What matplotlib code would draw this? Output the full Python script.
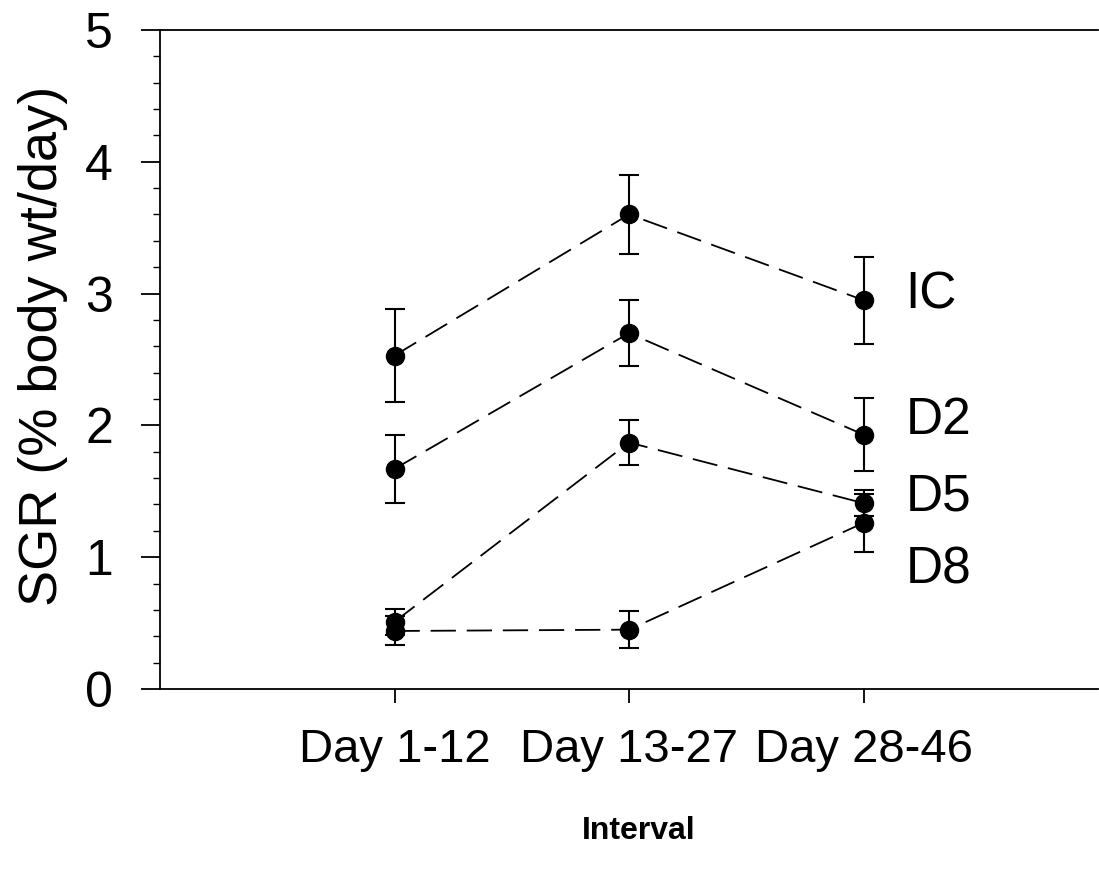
import numpy as np
import matplotlib
matplotlib.use("Agg")
import matplotlib.pyplot as plt
from matplotlib.ticker import MultipleLocator

# growth data: mean SGR and error per interval
intervals = ["Day 1-12", "Day 13-27", "Day 28-46"]
groups = ["IC", "D2", "D5", "D8"]
ic_mean = [2.53, 3.60, 2.95]
ic_err = [0.35, 0.30, 0.33]
d2_mean = [1.67, 2.70, 1.93]
d2_err = [0.26, 0.25, 0.28]
d5_mean = [0.51, 1.87, 1.41]
d5_err = [0.10, 0.17, 0.10]
d8_mean = [0.44, 0.45, 1.26]
d8_err = [0.11, 0.14, 0.22]
label_y = [2.99, 2.04, 1.46, 0.90]

plt.rcParams["font.family"] = ["Liberation Sans", "DejaVu Sans"]

fig = plt.figure(figsize=(10.99, 8.76), dpi=100)
ax = fig.add_axes([0.1456, 0.2135, 0.8535, 0.7523])

x = np.arange(1, len(intervals) + 1)
for m, e in [(ic_mean, ic_err), (d2_mean, d2_err), (d5_mean, d5_err), (d8_mean, d8_err)]:
    ax.errorbar(x, m, yerr=e, fmt="o", color="black", ms=13, elinewidth=1.5,
                capsize=7, capthick=1.5, zorder=3)
    ax.plot(x, m, color="black", lw=1.3, dashes=(14, 6), zorder=2)

for g, yy in zip(groups, label_y):
    ax.text(3.18, yy, g, fontsize=37, ha="left", va="center")

ax.set_xlim(0, 4)
ax.set_ylim(0, 5)
ax.set_xticks(x)
ax.set_xticklabels(intervals, fontsize=34)
ax.yaxis.set_major_locator(MultipleLocator(1))
ax.yaxis.set_minor_locator(MultipleLocator(0.2))
ax.tick_params(axis="y", which="major", direction="out", length=14, width=1.3,
               labelsize=36, pad=20)
ax.tick_params(axis="y", which="minor", direction="out", length=5, width=1.0)
ax.tick_params(axis="x", direction="out", length=10, width=1.3, pad=18)
ax.spines["right"].set_visible(False)
for s in ["left", "top", "bottom"]:
    ax.spines[s].set_linewidth(1.3)

ax.set_ylabel("SGR (% body wt/day)", fontsize=39)
ax.yaxis.set_label_coords(-0.098, 0.52)
ax.set_xlabel("Interval", fontsize=23, fontweight="bold")
ax.xaxis.set_label_coords(0.51, -0.192)

fig.savefig("out.png", dpi=100)
